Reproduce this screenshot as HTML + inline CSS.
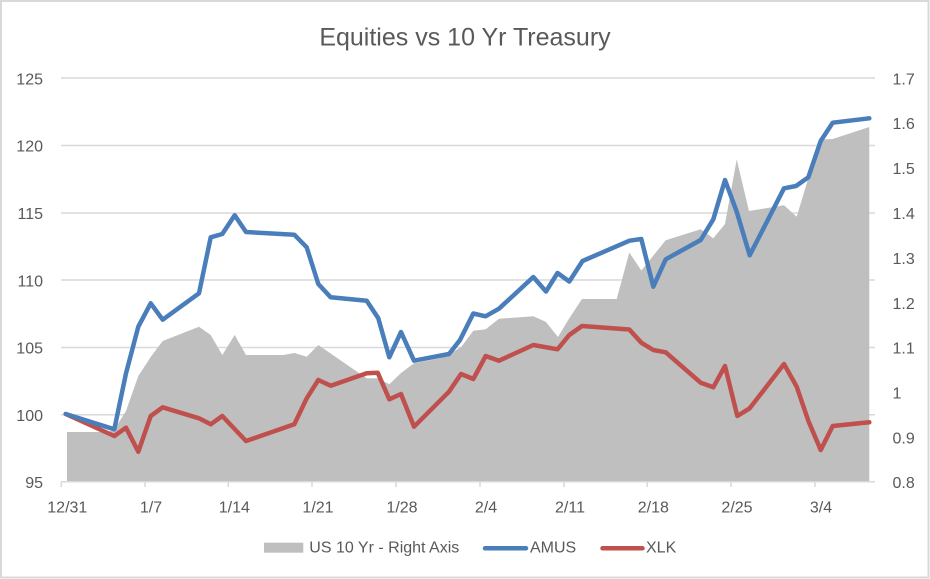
<!DOCTYPE html>
<html>
<head>
<meta charset="utf-8">
<style>
html,body{margin:0;padding:0;background:#fff;}
svg{display:block;}
text{font-family:"Liberation Sans",Arial,sans-serif;fill:#595959;}
</style>
</head>
<body>
<svg width="930" height="579" viewBox="0 0 930 579" xmlns="http://www.w3.org/2000/svg">
<rect x="0" y="0" width="930" height="579" fill="#fff"/>
<rect x="1" y="1" width="927.5" height="576.5" fill="none" stroke="#d9d9d9" stroke-width="2"/>

<text x="465" y="45.5" font-size="25" text-anchor="middle">Equities vs 10 Yr Treasury</text>

<!-- gridlines -->
<g stroke="#d9d9d9" stroke-width="1.5">
<line x1="61" y1="78" x2="875" y2="78"/>
<line x1="61" y1="145.5" x2="875" y2="145.5"/>
<line x1="61" y1="213" x2="875" y2="213"/>
<line x1="61" y1="280" x2="875" y2="280"/>
<line x1="61" y1="347.5" x2="875" y2="347.5"/>
<line x1="61" y1="414.7" x2="875" y2="414.7"/>
</g>

<!-- gray area -->
<polygon fill="#bfbfbf" points="67,481.7 67,432 108,432 114.3,429.5 126,411 138.3,376 150.7,357 162.7,341 199,326.7 210.7,335 222.3,355 234.7,335 246,355 283.3,355 294.3,353 306.7,356.7 318.3,345 359.3,373.3 366.7,378.3 377.7,378.3 389.3,384.3 401,373 414,363.3 440,358.3 449,354 461,347.3 473.3,330.7 485.7,329.3 499,318.7 533.3,316.3 545.7,321.7 558,337 569.3,318.3 582,299 616.7,299 629.3,252.5 641.3,270.5 665.7,240.3 700.7,229.3 713.3,238.3 725,224 736.7,159.5 749,211 784,205.3 796.7,216.7 808.3,178.3 821,139.5 832.7,139 869.3,127 869.3,481.7"/>

<!-- x axis -->
<g stroke="#d9d9d9" stroke-width="1.5">
<line x1="61" y1="481.7" x2="875" y2="481.7"/>
<line x1="61.3" y1="481.7" x2="61.3" y2="487"/>
<line x1="145" y1="481.7" x2="145" y2="487"/>
<line x1="228.3" y1="481.7" x2="228.3" y2="487"/>
<line x1="312" y1="481.7" x2="312" y2="487"/>
<line x1="396" y1="481.7" x2="396" y2="487"/>
<line x1="480" y1="481.7" x2="480" y2="487"/>
<line x1="564" y1="481.7" x2="564" y2="487"/>
<line x1="647.3" y1="481.7" x2="647.3" y2="487"/>
<line x1="731" y1="481.7" x2="731" y2="487"/>
<line x1="815" y1="481.7" x2="815" y2="487"/>
</g>

<!-- XLK red -->
<polyline fill="none" stroke="#c0504d" stroke-width="4.5" stroke-linejoin="round" stroke-linecap="round" points="65.7,414 114.3,436 126,427.7 138.3,451.7 150.7,416 162.7,407.3 199,418.3 210.7,424.3 222.3,416 246,441 294.3,424.3 306.7,398.3 318.3,380 330.7,385.7 366.7,373.3 377.7,372.7 389.3,399.3 401,394 414,426.7 449,391.7 461,374 473.3,379 485.7,356 499,360.7 533.3,345 557.5,349.3 569.3,335 582,326 629.3,329.5 641.3,342.7 653.3,350 665.7,352.3 700.7,382.7 713.3,387.3 725,366 737.3,416 749.7,408.3 784,364 796.7,386.7 808.3,420.7 820.7,450 832.7,426 869.3,422.3"/>

<!-- AMUS blue -->
<polyline fill="none" stroke="#4a7ebb" stroke-width="4.5" stroke-linejoin="round" stroke-linecap="round" points="65.7,414 114.3,429.3 126,373.3 138.3,326.7 150.7,303.3 162.7,319.7 199,293.3 210.7,237.3 222.3,234 234.7,215.3 246,232 294.3,234.7 306.7,247.3 318.3,284 330.7,297.3 366.7,300.7 378.3,318.3 389.3,357.3 401,332 414,360.7 449,354 460,340 473.3,313.5 485.5,316.3 499,308.7 533.3,277 546,291.5 557.5,273 569.3,281.5 582.5,261 629.5,240.7 641.3,239 653.3,286.7 665.7,259.3 700.7,240 713.3,219.3 725,180 736.7,211.7 749.7,255.3 784,188.3 796,186 808.3,177.3 820.7,141 832.7,122.7 869.3,118.3"/>

<!-- left axis labels -->
<g font-size="16" text-anchor="end">
<text x="43" y="84.3">125</text>
<text x="43" y="151.7">120</text>
<text x="43" y="219">115</text>
<text x="43" y="286.3">110</text>
<text x="43" y="353.7">105</text>
<text x="43" y="421">100</text>
<text x="43" y="488">95</text>
</g>

<!-- right axis labels -->
<g font-size="16" text-anchor="start">
<text x="892.5" y="84.3">1.7</text>
<text x="892.5" y="129.2">1.6</text>
<text x="892.5" y="174.1">1.5</text>
<text x="892.5" y="219">1.4</text>
<text x="892.5" y="263.9">1.3</text>
<text x="892.5" y="308.8">1.2</text>
<text x="892.5" y="353.7">1.1</text>
<text x="892.5" y="398.6">1</text>
<text x="892.5" y="443.5">0.9</text>
<text x="892.5" y="488.2">0.8</text>
</g>

<!-- x labels -->
<g font-size="16" text-anchor="middle">
<text x="67.3" y="512.3">12/31</text>
<text x="151" y="512.3">1/7</text>
<text x="234.3" y="512.3">1/14</text>
<text x="318" y="512.3">1/21</text>
<text x="402" y="512.3">1/28</text>
<text x="486" y="512.3">2/4</text>
<text x="570" y="512.3">2/11</text>
<text x="653.3" y="512.3">2/18</text>
<text x="737" y="512.3">2/25</text>
<text x="821" y="512.3">3/4</text>
</g>

<!-- legend -->
<rect x="264" y="542.7" width="39.3" height="10" fill="#bfbfbf"/>
<text x="309.3" y="552.5" font-size="16">US 10 Yr - Right Axis</text>
<line x1="485" y1="548.3" x2="526" y2="548.3" stroke="#4a7ebb" stroke-width="4.5" stroke-linecap="round"/>
<text x="530" y="552.5" font-size="16">AMUS</text>
<line x1="602.5" y1="548.3" x2="642.5" y2="548.3" stroke="#c0504d" stroke-width="4.5" stroke-linecap="round"/>
<text x="646" y="552.5" font-size="16">XLK</text>
</svg>
</body>
</html>
